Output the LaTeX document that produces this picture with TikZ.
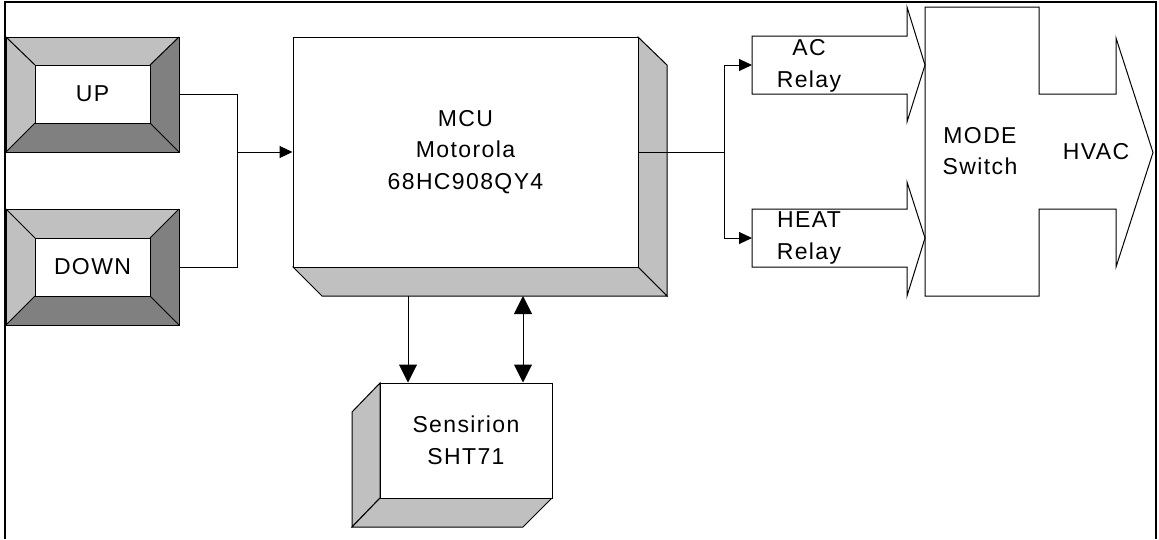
\documentclass[tikz,border=0pt]{standalone}
\usepackage{fontspec}
\setmainfont{Liberation Sans}[LetterSpace=6]
\usetikzlibrary{arrows.meta}
\definecolor{lgray}{HTML}{C0C0C0}
\definecolor{dgray}{HTML}{808080}
\tikzset{
  thin line/.style={line width=1pt, draw=black},
  face light/.style={fill=lgray, draw=black, line width=1pt, line join=miter},
  lbl/.style={align=center, font=\fontsize{23}{31.5}\selectfont, inner sep=0pt},
  btnouter/.style={draw=none, minimum width=173pt, minimum height=115pt, inner sep=0pt},
  btninner/.style={draw=black, line width=1pt, fill=white, minimum width=115pt, minimum height=58pt, inner sep=0pt, font=\fontsize{23}{31.5}\selectfont},
  frontbox/.style={draw=black, line width=1pt, fill=white, inner sep=0pt, align=center, font=\fontsize{23}{31.5}\selectfont},
  smallarrow/.style={-{Triangle[length=13pt,width=12pt]}, line width=1pt},
  bigarrow/.style={-{Triangle[length=18pt,width=18pt]}, line width=1pt},
  bigdarrow/.style={{Triangle[length=18pt,width=18pt]}-{Triangle[length=18pt,width=18pt]}, line width=1pt},
}
\begin{document}
\begin{tikzpicture}[x=1pt, y=-1pt]
\useasboundingbox (0,0) rectangle (1159,539);
% frame
\draw[line width=2.2pt] (5,539) -- (5,2) -- (1156,2) -- (1156,539);

% UP button
\node[btnouter] (upo) at (92.5,94.5) {};
\fill[lgray] (6,37) -- (179,37) -- (150,65) -- (35,65) -- cycle;
\fill[lgray] (6,37) -- (35,65) -- (35,123) -- (6,152) -- cycle;
\fill[dgray] (6,152) -- (35,123) -- (150,123) -- (179,152) -- cycle;
\fill[dgray] (179,37) -- (179,152) -- (150,123) -- (150,65) -- cycle;
\draw[thin line] (6,37) rectangle (179,152);
\draw[thin line] (6,37) -- (35,65) (179,37) -- (150,65) (6,152) -- (35,123) (179,152) -- (150,123);
\node[btninner] (up) at (92.5,94) {UP};

% DOWN button
\node[btnouter] (downo) at (92.5,267) {};
\fill[lgray] (6,209) -- (179,209) -- (150,238) -- (35,238) -- cycle;
\fill[lgray] (6,209) -- (35,238) -- (35,296) -- (6,325) -- cycle;
\fill[dgray] (6,325) -- (35,296) -- (150,296) -- (179,325) -- cycle;
\fill[dgray] (179,209) -- (179,325) -- (150,296) -- (150,238) -- cycle;
\draw[thin line] (6,209) rectangle (179,325);
\draw[thin line] (6,209) -- (35,238) (179,209) -- (150,238) (6,325) -- (35,296) (179,325) -- (150,296);
\node[btninner] (down) at (92.5,267) {DOWN};

% MCU
\draw[face light] (638,37) -- (667,65) -- (667,296) -- (638,267) -- cycle;
\draw[face light] (293,267) -- (638,267) -- (667,296) -- (322,296) -- cycle;
\node[frontbox, minimum width=345pt, minimum height=230pt] (mcu) at (465.5,152) {MCU\\Motorola\\68HC908QY4};

% Sensirion
\draw[face light] (380,383) -- (352,412) -- (352,527) -- (380,498) -- cycle;
\draw[face light] (380,498) -- (552,498) -- (523,527) -- (352,527) -- cycle;
\node[frontbox, minimum width=172pt, minimum height=115pt] (sht) at (466,440.5) {Sensirion\\SHT71};

% buttons to MCU
\coordinate (j1) at (237,152);
\draw[thin line] (upo.east) -| (j1);
\draw[thin line] (downo.east) -| (j1);
\draw[smallarrow] (j1) -- (mcu.west);

% MCU to sensor
\coordinate (m1) at (408,296);
\coordinate (m2) at (523,296);
\draw[bigarrow] (m1) -- (m1 |- sht.north);
\draw[bigdarrow] (m2) -- (m2 |- sht.north);

% relays
\draw[thin line, fill=white] (752,36) -- (907,36) -- (907,7) -- (925,65) -- (907,122) -- (907,94) -- (752,94) -- cycle;
\draw[thin line, fill=white] (752,209) -- (907,209) -- (907,182) -- (925,238) -- (907,296) -- (907,267) -- (752,267) -- cycle;
\coordinate (acin) at (752,65);
\coordinate (heatin) at (752,238);
\node[lbl] (ac) at (809,66) {AC\\Relay};
\node[lbl] (heat) at (809,238) {HEAT\\Relay};

% MCU to relays
\coordinate (j2) at (724,152);
\draw[thin line] (mcu.east) -- (j2);
\draw[smallarrow] (j2) |- (acin);
\draw[smallarrow] (j2) |- (heatin);

% MODE switch + HVAC arrow
\draw[thin line, line join=miter] (925,7) -- (1039,7) -- (1039,94) -- (1116,94) -- (1116,38) -- (1153,152.5) -- (1116,267) -- (1116,209) -- (1039,209) -- (1039,296) -- (925,296) -- cycle;
\node[lbl] (mode) at (980,151) {MODE\\Switch};
\node[lbl] (hvac) at (1096,152) {HVAC};
\end{tikzpicture}
\end{document}
